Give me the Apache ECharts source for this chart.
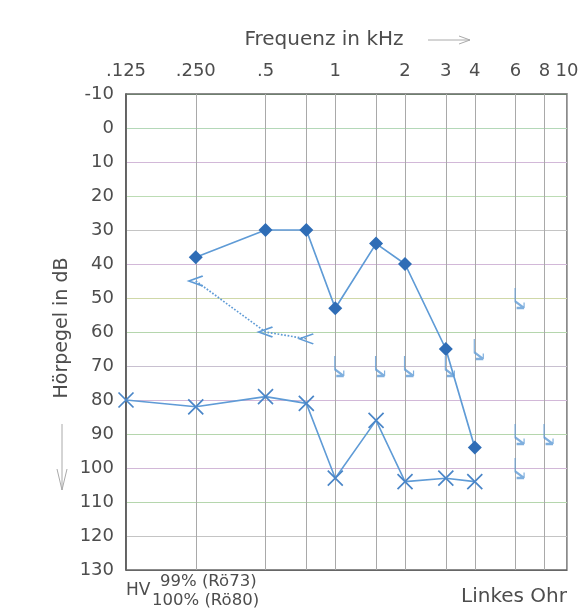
<!DOCTYPE html>
<html><head><meta charset="utf-8">
<script src="https://cdn.jsdelivr.net/npm/echarts@6/dist/echarts.min.js"></script>
<style>html,body{margin:0;padding:0;background:#fff}#c{width:588px;height:609px}</style>
</head><body><div id="c"></div>
<script>
// Frequencies (Hz) with vertical grid lines
const gridFreqs = [125, 250, 500, 750, 1000, 1500, 2000, 3000, 4000, 6000, 8000, 10000];
// Top tick labels
const labelFreqs = [125, 250, 500, 1000, 2000, 3000, 4000, 6000, 8000, 10000];
const freqLabels = ['.125', '.250', '.5', '1', '2', '3', '4', '6', '8', '10'];
// Y axis (dB)
const yMin = -10, yMax = 130, yStep = 10;

// Air conduction (filled diamonds)
const airFreq = [250, 500, 750, 1000, 1500, 2000, 3000, 4000];
const airDb   = [38, 30, 30, 53, 34, 40, 65, 94];
// Bone conduction (<, dotted)
const boneFreq = [250, 500, 750];
const boneDb   = [45, 60, 62];
// Crosses
const crossFreq = [125, 250, 500, 750, 1000, 1500, 2000, 3000, 4000];
const crossDb   = [80, 82, 79, 81, 103, 86, 104, 103, 104];
// Arrow marks
const arrowFreq = [1000, 1500, 2000, 3000, 4000, 6000, 6000, 8000, 6000];
const arrowDb   = [70, 70, 70, 70, 65, 50, 90, 90, 100];

const BLUE = '#5f9bd6';
const DARK = '#2f6db6';
const TXT = '#4d4d4d';
const FONT = '"DejaVu Sans", Verdana, sans-serif';

const pairs = (xs, ys) => xs.map((x, i) => [x, ys[i]]);
const l2 = Math.log2;

const chart = echarts.init(document.getElementById('c'), null, {renderer: 'canvas'});
chart.setOption({
  animation: false,
  backgroundColor: '#fff',
  grid: {left: 126, right: 21, top: 94, bottom: 39, show: true, borderColor: '#666', borderWidth: 1.5},
  xAxis: [
    {type: 'log', logBase: 2, min: 125, max: 10000, show: false},
    {
      type: 'value', position: 'top', min: l2(125), max: l2(10000),
      axisLine: {show: false},
      axisTick: {show: false, customValues: gridFreqs.map(l2)},
      axisLabel: {
        customValues: labelFreqs.map(l2), margin: 14,
        fontSize: 18, color: TXT, fontFamily: FONT,
        formatter: v => {
          const i = labelFreqs.findIndex(f => Math.abs(l2(f) - v) < 1e-6);
          return i >= 0 ? freqLabels[i] : '';
        }
      },
      splitLine: {show: true, lineStyle: {color: '#a9a9a9', width: 1}}
    }
  ],
  yAxis: {
    type: 'value', inverse: true, min: yMin, max: yMax, interval: yStep,
    axisLine: {show: true, lineStyle: {color: '#555', width: 1.5}},
    axisTick: {show: false},
    axisLabel: {fontSize: 18, color: TXT, fontFamily: FONT, margin: 12},
    splitLine: {show: true, lineStyle: {color: ['#6f7f6f', '#b4d8b8', '#d2b8d8', '#bcdcb4', '#c4c4c4', '#d2b8d8', '#cfd8a8', '#b5d6ad', '#c8c0d0', '#d2b8d8', '#b5d6ad', '#d2b8d8', '#b5d6ad', '#c4c4c4', '#666'], width: 1}}
  },
  graphic: [
    {type: 'text', x: 324, y: 40, style: {text: 'Frequenz in kHz', font: '20px ' + FONT, fill: TXT, align: 'center', verticalAlign: 'middle'}},
    {type: 'polyline', shape: {points: [[428, 40], [470, 40]]}, style: {stroke: '#aaa', lineWidth: 1, fill: null}},
    {type: 'polyline', shape: {points: [[459, 36], [470, 40], [459, 44]]}, style: {stroke: '#aaa', lineWidth: 1, fill: null}},
    {type: 'text', x: 62, y: 328, rotation: Math.PI / 2, style: {text: 'Hörpegel in dB', font: '19px ' + FONT, fill: TXT, align: 'center', verticalAlign: 'middle'}},
    {type: 'polyline', shape: {points: [[62, 424], [62, 490]]}, style: {stroke: '#aaa', lineWidth: 1, fill: null}},
    {type: 'polyline', shape: {points: [[57, 469], [62, 490], [67, 469]]}, style: {stroke: '#aaa', lineWidth: 1, fill: null}},
    {type: 'text', x: 126, y: 591, style: {text: 'HV', font: '17px ' + FONT, fill: TXT, align: 'left', verticalAlign: 'middle'}},
    {type: 'text', x: 160, y: 582, style: {text: '99% (Rö73)', font: '16.5px ' + FONT, fill: TXT, align: 'left', verticalAlign: 'middle'}},
    {type: 'text', x: 152, y: 601, style: {text: '100% (Rö80)', font: '16.5px ' + FONT, fill: TXT, align: 'left', verticalAlign: 'middle'}},
    {type: 'text', x: 567, y: 597, style: {text: 'Linkes Ohr', font: '20px ' + FONT, fill: TXT, align: 'right', verticalAlign: 'middle'}}
  ],
  series: [
    {
      type: 'line', xAxisIndex: 0, data: pairs(crossFreq, crossDb),
      symbol: 'path://M0,0 L10,10 M10,0 L0,10', symbolSize: 15,
      lineStyle: {color: BLUE, width: 1.6},
      itemStyle: {color: 'rgba(0,0,0,0)', borderColor: '#4a86c8', borderWidth: 1.7},
      z: 3
    },
    {
      type: 'line', xAxisIndex: 0, data: pairs(boneFreq, boneDb),
      symbol: 'path://M10,0 L0,5 L10,10', symbolSize: [14, 10],
      lineStyle: {color: BLUE, width: 1.7, type: 'dotted'},
      itemStyle: {color: 'rgba(0,0,0,0)', borderColor: BLUE, borderWidth: 1.7},
      z: 3
    },
    {
      type: 'scatter', xAxisIndex: 0, data: pairs(arrowFreq, arrowDb),
      symbol: 'path://M0,0 L0,12 L6,18 M6,18 L6,13 M6,18 L1,18', symbolSize: [9, 20], symbolOffset: [4, 0],
      itemStyle: {color: 'rgba(0,0,0,0)', borderColor: BLUE, borderWidth: 1.8},
      z: 3
    },
    {
      type: 'line', xAxisIndex: 0, data: pairs(airFreq, airDb),
      symbol: 'diamond', symbolSize: 14,
      lineStyle: {color: BLUE, width: 1.7},
      itemStyle: {color: DARK, borderWidth: 0},
      z: 4
    }
  ]
});
</script></body></html>
